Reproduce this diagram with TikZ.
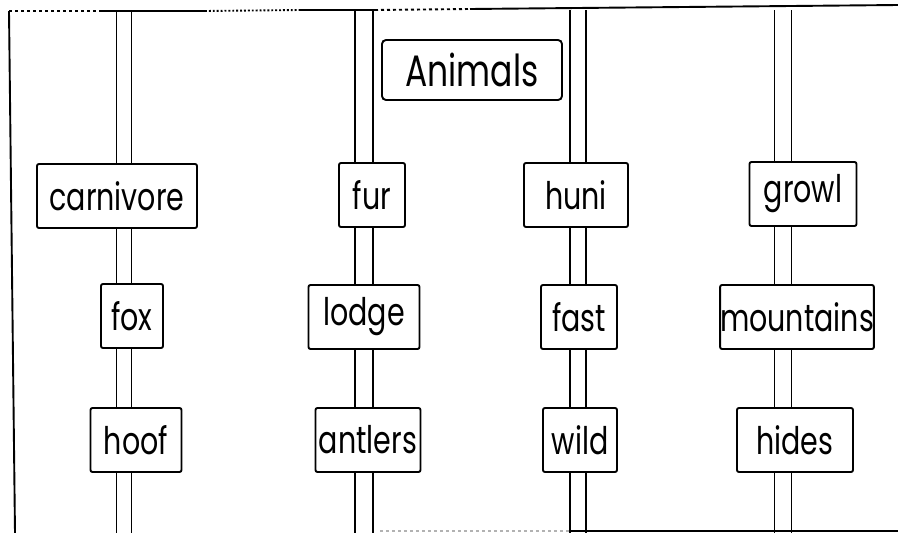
\documentclass[tikz,border=0pt]{standalone}
\usepackage{fontspec}
\setmainfont{Poppins}[FakeStretch=0.75]
\begin{document}
\begin{tikzpicture}[x=1pt, y=-1pt, line width=1.9pt,
    wordbox/.style={draw, fill=white, rounded corners=2pt, inner sep=0pt,
      minimum height=64pt, font=\fontsize{38}{40}\selectfont}]
    \useasboundingbox (0,0) rectangle (898,533);
    % poles behind the word boxes
    \foreach \i/\px/\pw in {1/124/7.5, 2/364/9, 3/578/8, 4/783/8.5} {
      \coordinate (pt\i) at (\px,10);
      \coordinate (pb\i) at (\px,533);
      \draw ([xshift=-\pw pt]pt\i) -- ([xshift=-\pw pt]pb\i);
      \draw ([xshift=\pw pt]pt\i) -- ([xshift=\pw pt]pb\i);
    }
    % frame
    \coordinate (tl) at (9,11);
    \coordinate (bl) at (15,533);
    \draw (tl) -- (bl);
    \draw[dashed] (tl) -- (100,11);
    \draw (100,11) -- (205,11);
    \draw[dotted] (205,11) -- (300,10);
    \draw (300,10) -- (375,10);
    \draw[dashed] (375,10) -- (470,9);
    \draw (470,9) -- (898,5);
    \draw[gray!60, dashed] (380,531) -- (570,531);
    \draw (570,531) -- (898,531);
    % title
    \node[wordbox, minimum width=180pt, minimum height=60pt,
      rounded corners=4pt, font=\fontsize{44}{46}\selectfont] (animals) at (472,70) {Animals};
    % first row
    \node[wordbox, minimum width=160pt] (carnivore) at (117,196) {carnivore};
    \node[wordbox, minimum width=66pt] (fur) at (372,195) {fur};
    \node[wordbox, minimum width=104pt] (huni) at (576,195) {huni};
    \node[wordbox, minimum width=107pt] (growl) at (803,194) {growl};
    % second row
    \node[wordbox, minimum width=62pt] (fox) at (132,316) {fox};
    \node[wordbox, minimum width=111pt] (lodge) at (364,317) {lodge};
    \node[wordbox, minimum width=76pt] (fast) at (579,317) {fast};
    \node[wordbox, minimum width=149pt] (mountains) at (797,317) {mountains};
    % third row
    \node[wordbox, minimum width=91pt] (hoof) at (136,440) {hoof};
    \node[wordbox, minimum width=105pt] (antlers) at (368,440) {antlers};
    \node[wordbox, minimum width=74pt] (wild) at (580,440) {wild};
    \node[wordbox, minimum width=116pt] (hides) at (795,440) {hides};
\end{tikzpicture}
\end{document}
